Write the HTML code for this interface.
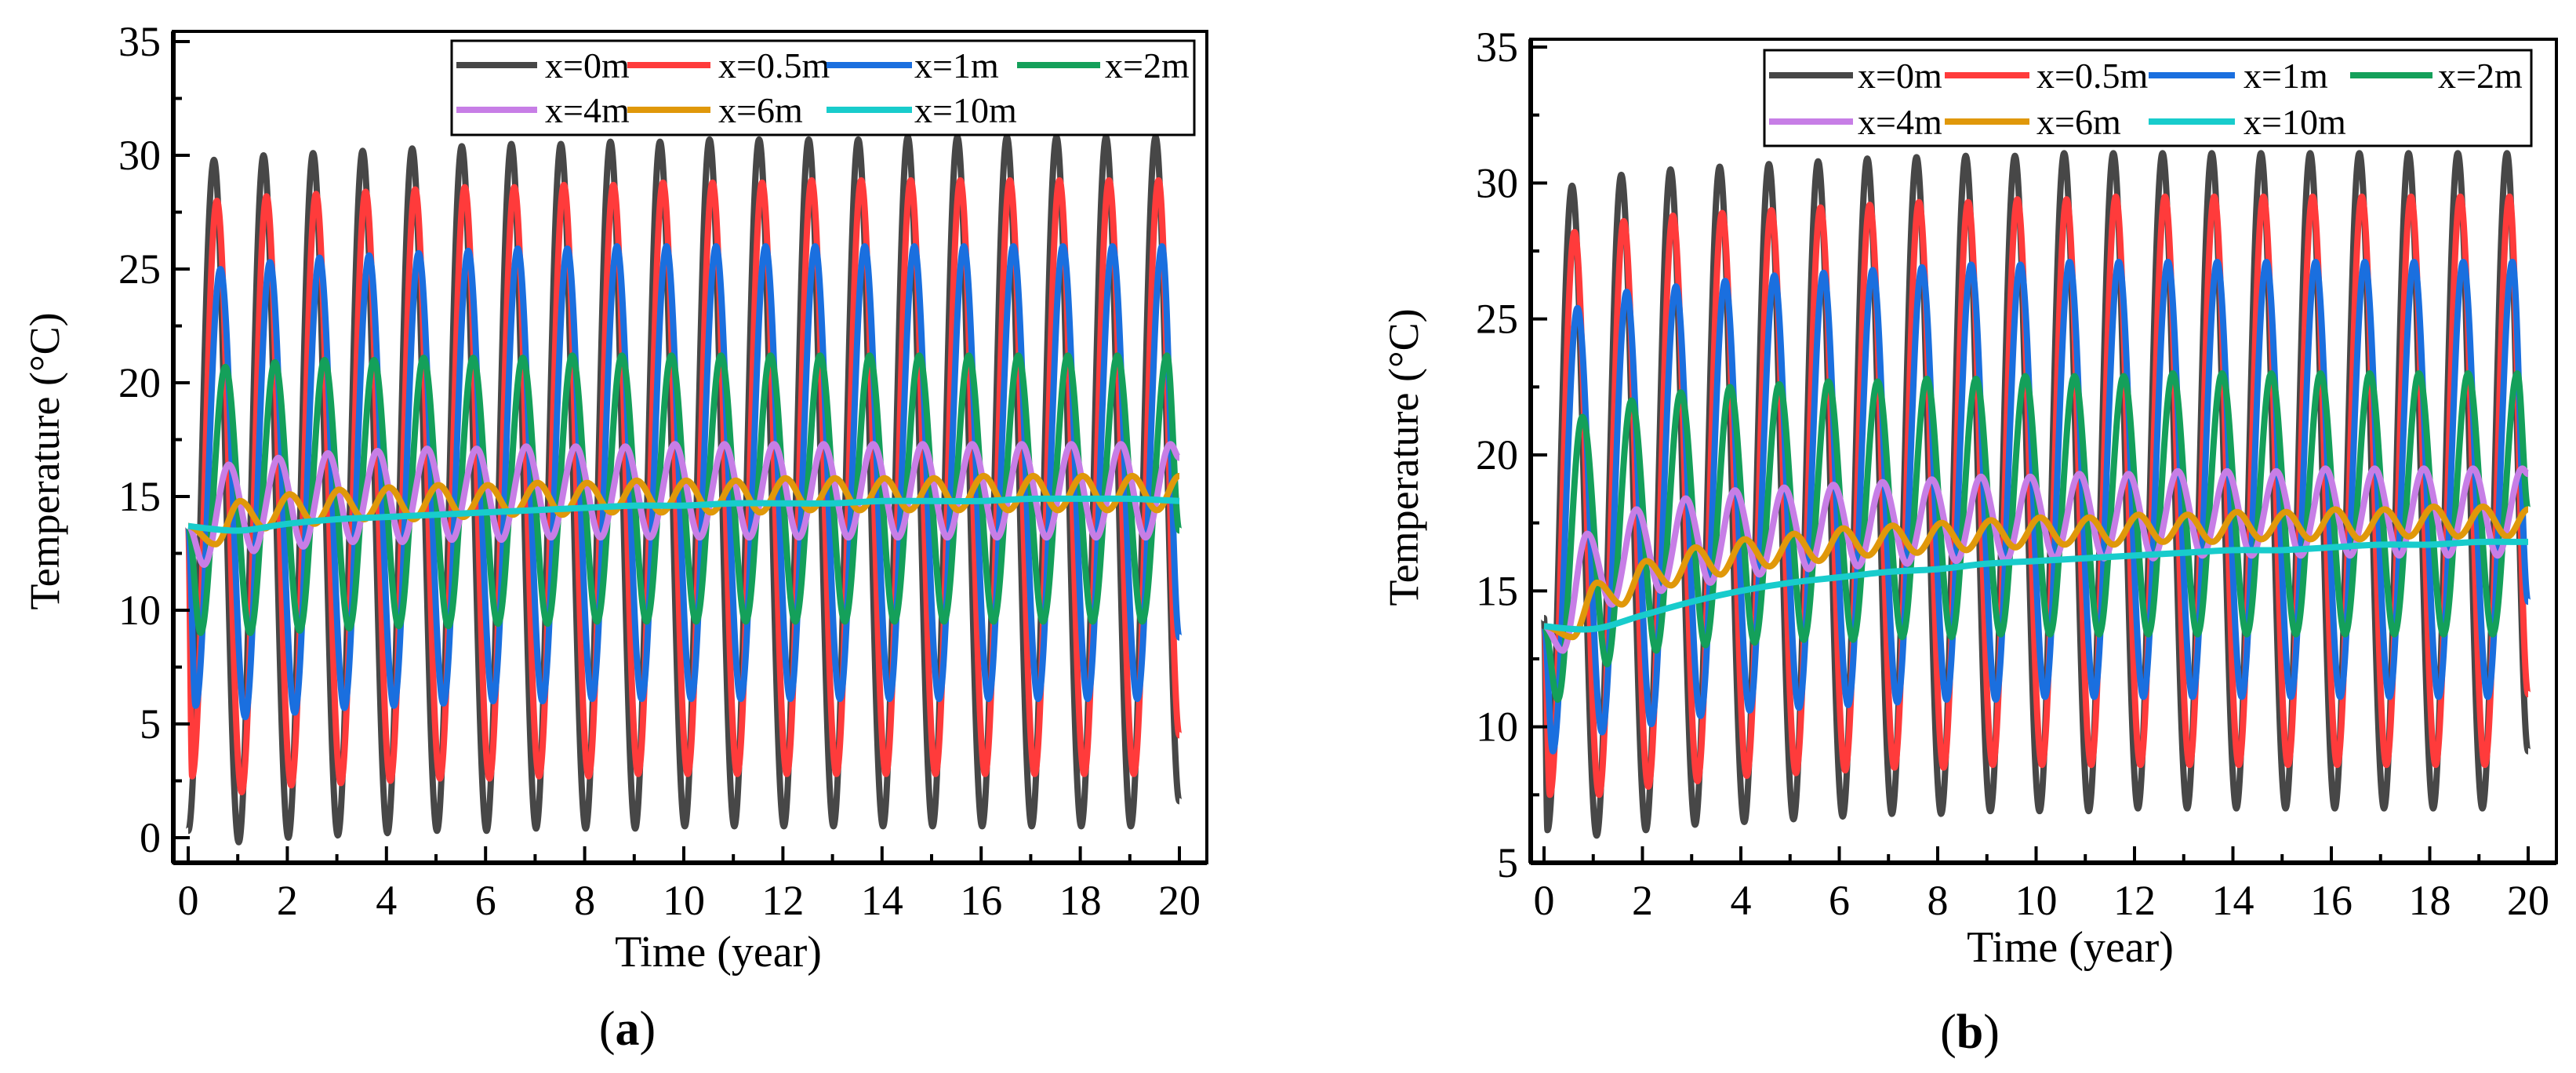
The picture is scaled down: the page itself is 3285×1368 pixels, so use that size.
<!DOCTYPE html>
<html><head><meta charset="utf-8"><style>
html,body{margin:0;padding:0;background:#fff;}
svg{display:block;}
svg text{font-family:"Liberation Serif","Times New Roman",serif;}
</style></head><body>
<svg id="fig" width="3285" height="1368" viewBox="0 0 3285 1368" xmlns="http://www.w3.org/2000/svg" font-family="Liberation Serif, serif">
<rect x="0" y="0" width="3285" height="1368" fill="#fff"/>
</svg>
<script>
// ===== Chart (a) data =====
const seriesNames = ["x=0m","x=0.5m","x=1m","x=2m","x=4m","x=6m","x=10m"];
const seriesColors = ["#474747","#ff3b3b","#1a6fdf","#14a05a","#c77ee6","#e0980a","#18cccc"];
const xTicks = [0,2,4,6,8,10,12,14,16,18,20];
const yTicksA = [0,5,10,15,20,25,30,35];
const yTicksB = [5,10,15,20,25,30,35];

const a0Peaks = [29.8,30.0,30.1,30.2,30.3,30.4,30.5,30.5,30.6,30.6,30.7,30.7,30.7,30.7,30.8,30.8,30.8,30.8,30.8,30.8];
const a0Troughs = [0.2,-0.2,0.0,0.1,0.2,0.3,0.3,0.4,0.4,0.4,0.5,0.5,0.5,0.5,0.5,0.5,0.5,0.5,0.5,0.5,0.5];
const a1Peaks = [28.0,28.2,28.3,28.4,28.5,28.6,28.6,28.7,28.7,28.8,28.8,28.8,28.9,28.9,28.9,28.9,28.9,28.9,28.9,28.9];
const a1Troughs = [2.7,2.0,2.3,2.4,2.5,2.6,2.6,2.7,2.7,2.8,2.8,2.8,2.8,2.8,2.8,2.8,2.8,2.8,2.8,2.8,2.8];
const a2Peaks = [25.0,25.3,25.5,25.6,25.7,25.8,25.9,25.9,26.0,26.0,26.0,26.0,26.0,26.0,26.0,26.0,26.0,26.0,26.0,26.0];
const a2Troughs = [5.8,5.3,5.5,5.7,5.8,5.9,6.0,6.0,6.1,6.1,6.1,6.1,6.1,6.1,6.1,6.1,6.1,6.1,6.1,6.1,6.1];
const a3Peaks = [20.7,20.9,21.0,21.0,21.1,21.1,21.1,21.2,21.2,21.2,21.2,21.2,21.2,21.2,21.2,21.2,21.2,21.2,21.2,21.2];
const a3Troughs = [9.0,9.0,9.1,9.2,9.3,9.3,9.4,9.4,9.5,9.5,9.5,9.5,9.5,9.5,9.5,9.5,9.5,9.5,9.5,9.5,9.5];
const a4Peaks = [16.4,16.7,16.9,17.0,17.1,17.1,17.2,17.2,17.2,17.3,17.3,17.3,17.3,17.3,17.3,17.3,17.3,17.3,17.3,17.3];
const a4Troughs = [12.0,12.6,12.8,13.0,13.0,13.1,13.1,13.2,13.2,13.2,13.2,13.2,13.2,13.2,13.2,13.2,13.2,13.2,13.2,13.2,13.2];
const a5Peaks = [14.8,15.1,15.3,15.4,15.5,15.5,15.6,15.6,15.7,15.7,15.7,15.8,15.8,15.8,15.8,15.9,15.9,15.9,15.9,15.9];
const a5Troughs = [12.9,13.6,13.8,14.0,14.0,14.1,14.2,14.2,14.3,14.3,14.3,14.3,14.4,14.4,14.4,14.4,14.4,14.4,14.4,14.4,14.4];
const a6Yearly = [13.7,13.5,13.8,14.0,14.1,14.2,14.3,14.4,14.5,14.6,14.6,14.7,14.7,14.7,14.8,14.8,14.8,14.9,14.9,14.9,14.8];
const aPhases = [0.52,0.58,0.65,0.75,0.82,1.05];
const aStarts = [0.3,13.7,13.7,13.7,13.7,13.7];
const aEnds = [1.6,4.5,8.8,13.5,16.7,15.9];

// ===== Chart (b) data =====
const b0Peaks = [29.9,30.3,30.5,30.6,30.7,30.8,30.9,30.95,31.0,31.0,31.1,31.1,31.1,31.1,31.1,31.1,31.1,31.1,31.1,31.1];
const b0Troughs = [6.2,6.0,6.2,6.4,6.5,6.6,6.7,6.8,6.8,6.9,6.9,6.9,7.0,7.0,7.0,7.0,7.0,7.0,7.0,7.0,7.0];
const b1Peaks = [28.2,28.6,28.8,28.9,29.0,29.1,29.2,29.3,29.3,29.4,29.4,29.5,29.5,29.5,29.5,29.5,29.5,29.5,29.5,29.5];
const b1Troughs = [7.5,7.5,7.8,8.0,8.2,8.3,8.4,8.5,8.5,8.6,8.6,8.6,8.6,8.6,8.6,8.6,8.6,8.6,8.6,8.6,8.6];
const b2Peaks = [25.4,26.0,26.2,26.4,26.6,26.7,26.8,26.9,27.0,27.0,27.1,27.1,27.1,27.1,27.1,27.1,27.1,27.1,27.1,27.1];
const b2Troughs = [9.1,9.8,10.1,10.4,10.6,10.7,10.8,10.9,11.0,11.0,11.1,11.1,11.1,11.1,11.1,11.1,11.1,11.1,11.1,11.1,11.1];
const b3Peaks = [21.4,22.0,22.3,22.5,22.6,22.7,22.7,22.8,22.8,22.9,22.9,22.9,23.0,23.0,23.0,23.0,23.0,23.0,23.0,23.0];
const b3Troughs = [11.0,12.3,12.8,13.0,13.1,13.2,13.2,13.3,13.3,13.4,13.4,13.4,13.4,13.4,13.4,13.4,13.4,13.4,13.4,13.4,13.4];
const b4Peaks = [17.1,18.0,18.4,18.7,18.8,18.9,19.0,19.1,19.2,19.2,19.3,19.3,19.4,19.4,19.4,19.5,19.5,19.5,19.5,19.5];
const b4Troughs = [12.8,14.5,15.0,15.3,15.6,15.8,15.9,16.0,16.1,16.1,16.2,16.2,16.2,16.3,16.3,16.3,16.3,16.3,16.3,16.3,16.3];
const b5Peaks = [15.3,16.1,16.6,16.9,17.1,17.3,17.4,17.5,17.6,17.7,17.7,17.8,17.8,17.9,17.9,18.0,18.0,18.1,18.1,18.1];
const b5Troughs = [13.3,14.5,15.2,15.6,15.9,16.1,16.3,16.4,16.5,16.6,16.7,16.7,16.8,16.8,16.9,16.9,16.9,17.0,17.0,17.0,17.0];
const b6Yearly = [13.7,13.6,14.1,14.6,15.0,15.3,15.5,15.7,15.8,16.0,16.1,16.2,16.3,16.4,16.5,16.5,16.6,16.7,16.7,16.8,16.8];
const bPhases = [0.57,0.62,0.68,0.78,0.88,1.08];
const bStarts = [14.0,13.7,13.7,13.7,13.7,13.7];
const bEnds = [9.1,11.2,14.6,18.0,19.3,18.0];

const NS = "http://www.w3.org/2000/svg";
const svg = document.getElementById('fig');
const FONT = '"Liberation Serif", "Times New Roman", serif';
function mk(tag, attrs, parent){
  const e = document.createElementNS(NS, tag);
  for (const k in attrs) e.setAttribute(k, attrs[k]);
  if (tag === 'text') e.style.fontFamily = FONT;
  (parent||svg).appendChild(e);
  return e;
}

function buildPoints(peaks, troughs, phase, start, end){
  const pts = [[0,start]];
  const ext = [];
  troughs.forEach((v,k)=>{ const t = phase-0.5+k; if (t>0.04 && t<19.96) ext.push([t,v]); });
  peaks.forEach((v,k)=>{ const t = phase+k; if (t>0.04 && t<19.96) ext.push([t,v]); });
  ext.sort((p,q)=>p[0]-q[0]);
  return pts.concat(ext, [[20,end]]);
}

function drawChart(cfg){
  const g = mk('g', {});
  
  
  const X = t => cfg.x0 + (t - 0) * (cfg.x20 - cfg.x0) / 20;
  const Y = v => cfg.yA + (v - cfg.vA) * (cfg.yB - cfg.yA) / (cfg.vB - cfg.vA);

  const clipId = cfg.name + '-clip';
  const defs = mk('defs', {}, g);
  const cp = mk('clipPath', {id: clipId}, defs);
  mk('rect', {x: cfg.L, y: cfg.T, width: cfg.R - cfg.L, height: cfg.B - cfg.T}, cp);

  const plot = mk('g', {'clip-path': 'url(#' + clipId + ')'}, g);
  
  

  cfg.series.forEach((s, i) => {
    let d;
    if (s.yearly) {
      const p = s.yearly.map((v, k) => [X(k), Y(v)]);
      d = 'M' + p[0][0] + ',' + p[0][1];
      for (let k = 0; k < p.length - 1; k++) {
        const p0 = p[Math.max(0, k - 1)], p1 = p[k], p2 = p[k + 1], p3 = p[Math.min(p.length - 1, k + 2)];
        const c1x = p1[0] + (p2[0] - p0[0]) / 6, c1y = p1[1] + (p2[1] - p0[1]) / 6;
        const c2x = p2[0] - (p3[0] - p1[0]) / 6, c2y = p2[1] - (p3[1] - p1[1]) / 6;
        d += ' C' + c1x + ',' + c1y + ' ' + c2x + ',' + c2y + ' ' + p2[0] + ',' + p2[1];
      }
    } else {
      const pts = buildPoints(s.peaks, s.troughs, s.phase, s.start, s.end);
      d = 'M' + X(pts[0][0]) + ',' + Y(pts[0][1]);
      for (let k = 0; k < pts.length - 1; k++) {
        const a = pts[k], b = pts[k + 1];
        const dt = (b[0] - a[0]) * 0.3642;
        d += ' C' + X(a[0] + dt) + ',' + Y(a[1]) + ' ' + X(b[0] - dt) + ',' + Y(b[1]) + ' ' + X(b[0]) + ',' + Y(b[1]);
      }
    }
    const path = mk('path', {d: d, fill: 'none', stroke: seriesColors[i], 'stroke-width': 8, 'stroke-linejoin': 'round'}, plot);
    
    
  });

  const frame = mk('rect', {x: cfg.L, y: cfg.T, width: cfg.R - cfg.L, height: cfg.B - cfg.T, fill: 'none', stroke: '#000', 'stroke-width': 4}, g);
  
  
  mk('line', {x1: cfg.L, y1: cfg.T, x2: cfg.L, y2: cfg.B, stroke: '#000', 'stroke-width': 6}, g);
  mk('line', {x1: cfg.L, y1: cfg.B, x2: cfg.R, y2: cfg.B, stroke: '#000', 'stroke-width': 6}, g);

  for (let t = 0; t <= 20; t++) {
    const major = t % 2 === 0;
    mk('line', {x1: X(t), y1: cfg.B, x2: X(t), y2: cfg.B - (major ? 21 : 11), stroke: '#000', 'stroke-width': 4}, g);
  }
  xTicks.forEach(t => {
    const tx = mk('text', {x: X(t), y: cfg.B + 66, 'font-size': 54, 'text-anchor': 'middle', fill: '#000'}, g);
    tx.textContent = t;
    
    
  });
  for (let v = cfg.yMinTick; v <= 35; v += 2.5) {
    const major = (v % 5) === 0;
    mk('line', {x1: cfg.L, y1: Y(v), x2: cfg.L + (major ? 21 : 11), y2: Y(v), stroke: '#000', 'stroke-width': 4}, g);
  }
  cfg.yTicks.forEach(v => {
    const ty = mk('text', {x: cfg.L - 16, y: Y(v) + 18, 'font-size': 54, 'text-anchor': 'end', fill: '#000'}, g);
    ty.textContent = v;
    
    
  });
  const xt = mk('text', {x: cfg.xTitleX, y: cfg.xTitleY, 'font-size': 56, 'text-anchor': 'middle', fill: '#000'}, g);
  xt.textContent = 'Time (year)';
  
  
  const yt = mk('text', {x: 0, y: 0, 'font-size': 54, 'text-anchor': 'middle', fill: '#000', transform: 'translate(' + cfg.yTitleX + ',' + cfg.yTitleY + ') rotate(-90)'}, g);
  yt.textContent = 'Temperature (°C)';
  
  

  const lg = mk('g', {}, g);
  
  
  mk('rect', {x: cfg.lg.x, y: cfg.lg.y, width: cfg.lg.w, height: cfg.lg.h, fill: '#fff', stroke: '#000', 'stroke-width': 3}, lg);
  seriesNames.forEach((n, i) => {
    const col = i % 4, row = Math.floor(i / 4);
    const ly = cfg.lg.rows[row];
    const e = mk('g', {}, lg);
    
    
    mk('line', {x1: cfg.lg.lines[col][0], y1: ly, x2: cfg.lg.lines[col][1], y2: ly, stroke: seriesColors[i], 'stroke-width': 8}, e);
    const t = mk('text', {x: cfg.lg.texts[col], y: ly + 16, 'font-size': 46, fill: '#000'}, e);
    t.textContent = n;
  });

  const cap = mk('text', {x: cfg.capX, y: cfg.capY, 'font-size': 62, 'text-anchor': 'middle', fill: '#000'}, g);
  cap.innerHTML = '(<tspan font-weight="bold">' + cfg.cap + '</tspan>)';
  
  
}

drawChart({
  name: 'chart-a', L: 221, R: 1539, T: 40, B: 1100,
  x0: 240, x20: 1504, yA: 1068, vA: 0, yB: 53, vB: 35,
  yTicks: yTicksA, yMinTick: 0,
  xTitleX: 916, xTitleY: 1232, yTitleX: 75, yTitleY: 588,
  capX: 800, capY: 1332, cap: 'a',
  lg: {x: 576, y: 52, w: 947, h: 120, rows: [83, 140],
       lines: [[582,685],[800,906],[1054,1163],[1297,1403]], texts: [695, 916, 1166, 1409]},
  series: [
    {peaks: a0Peaks, troughs: a0Troughs, phase: aPhases[0], start: aStarts[0], end: aEnds[0]},
    {peaks: a1Peaks, troughs: a1Troughs, phase: aPhases[1], start: aStarts[1], end: aEnds[1]},
    {peaks: a2Peaks, troughs: a2Troughs, phase: aPhases[2], start: aStarts[2], end: aEnds[2]},
    {peaks: a3Peaks, troughs: a3Troughs, phase: aPhases[3], start: aStarts[3], end: aEnds[3]},
    {peaks: a4Peaks, troughs: a4Troughs, phase: aPhases[4], start: aStarts[4], end: aEnds[4]},
    {peaks: a5Peaks, troughs: a5Troughs, phase: aPhases[5], start: aStarts[5], end: aEnds[5]},
    {yearly: a6Yearly}
  ]
});

drawChart({
  name: 'chart-b', L: 1952, R: 3260, T: 50, B: 1100,
  x0: 1969, x20: 3224, yA: 1100, vA: 5, yB: 60, vB: 35,
  yTicks: yTicksB, yMinTick: 5,
  xTitleX: 2640, xTitleY: 1226, yTitleX: 1808, yTitleY: 583,
  capX: 2512, capY: 1336, cap: 'b',
  lg: {x: 2250, y: 64, w: 978, h: 122, rows: [96, 155],
       lines: [[2256,2363],[2480,2588],[2740,2850],[2997,3102]], texts: [2369, 2597, 2861, 3109]},
  series: [
    {peaks: b0Peaks, troughs: b0Troughs, phase: bPhases[0], start: bStarts[0], end: bEnds[0]},
    {peaks: b1Peaks, troughs: b1Troughs, phase: bPhases[1], start: bStarts[1], end: bEnds[1]},
    {peaks: b2Peaks, troughs: b2Troughs, phase: bPhases[2], start: bStarts[2], end: bEnds[2]},
    {peaks: b3Peaks, troughs: b3Troughs, phase: bPhases[3], start: bStarts[3], end: bEnds[3]},
    {peaks: b4Peaks, troughs: b4Troughs, phase: bPhases[4], start: bStarts[4], end: bEnds[4]},
    {peaks: b5Peaks, troughs: b5Troughs, phase: bPhases[5], start: bStarts[5], end: bEnds[5]},
    {yearly: b6Yearly}
  ]
});
</script>
</body></html>
